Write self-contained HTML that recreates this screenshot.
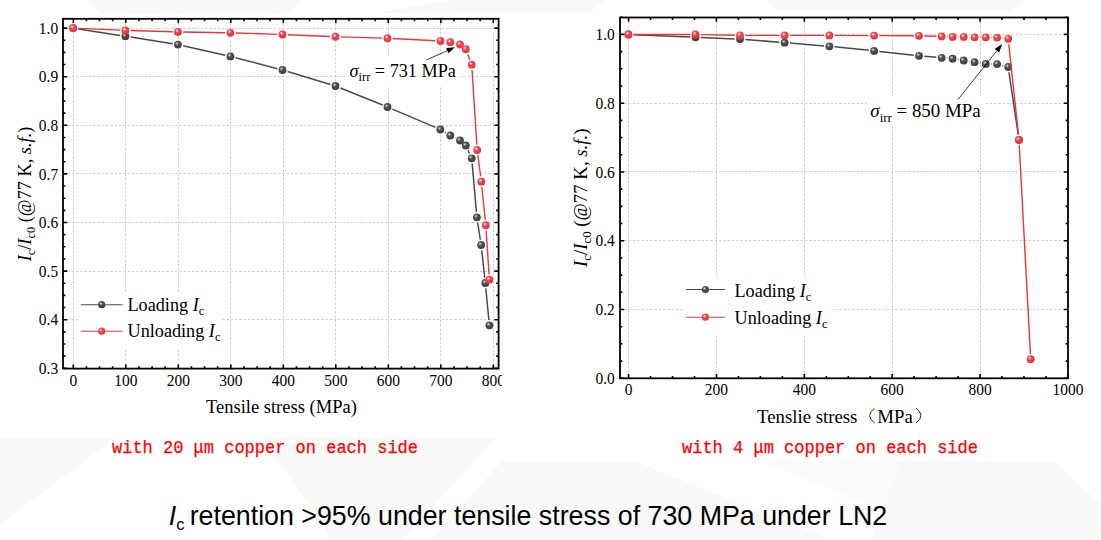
<!DOCTYPE html><html><head><meta charset="utf-8"><style>html,body{margin:0;padding:0;background:#fff;width:1101px;height:540px;overflow:hidden}svg{display:block}</style></head><body><svg width="1101" height="540" viewBox="0 0 1101 540">
<defs>
<radialGradient id="gr" cx="0.38" cy="0.35" r="0.7">
 <stop offset="0" stop-color="#fff"/><stop offset="0.16" stop-color="#fbaeb0"/><stop offset="0.36" stop-color="#f2434a"/><stop offset="1" stop-color="#e6323a"/>
</radialGradient>
<radialGradient id="gd" cx="0.38" cy="0.35" r="0.7">
 <stop offset="0" stop-color="#eee"/><stop offset="0.16" stop-color="#999"/><stop offset="0.36" stop-color="#505050"/><stop offset="1" stop-color="#3a3a3a"/>
</radialGradient>
</defs>
<rect width="1101" height="540" fill="#fff"/>
<polygon points="88,0 301,0 288,13 100,13" fill="#f9f9f9"/>
<polygon points="450,0 605,0 590,12.5 377,13" fill="#f9f9f9"/>
<polygon points="767,0 1024,0 1011,11 777,11" fill="#f9f9f9"/>
<polygon points="0,437.5 116,437.5 0,524" fill="#f9f9f9"/>
<polygon points="263,437.5 496,437.5 402,540 332,540" fill="#f9f9f9"/>
<polygon points="502,461 633,461 832,540 430,540" fill="#f9f9f9"/>
<polygon points="761,461 902,461 883,509.5" fill="#fbfbfb"/>
<polygon points="902,461 1054,461 1101,505 1101,540 871,540" fill="#f9f9f9"/>
<line x1="73.5" y1="18.8" x2="73.5" y2="368.6" stroke="#cfcfcf" stroke-width="1" stroke-dasharray="2.5,1.8"/>
<line x1="125.5" y1="18.8" x2="125.5" y2="368.6" stroke="#cfcfcf" stroke-width="1" stroke-dasharray="2.5,1.8"/>
<line x1="178.5" y1="18.8" x2="178.5" y2="368.6" stroke="#cfcfcf" stroke-width="1" stroke-dasharray="2.5,1.8"/>
<line x1="230.5" y1="18.8" x2="230.5" y2="368.6" stroke="#cfcfcf" stroke-width="1" stroke-dasharray="2.5,1.8"/>
<line x1="283.5" y1="18.8" x2="283.5" y2="368.6" stroke="#cfcfcf" stroke-width="1" stroke-dasharray="2.5,1.8"/>
<line x1="335.5" y1="18.8" x2="335.5" y2="368.6" stroke="#cfcfcf" stroke-width="1" stroke-dasharray="2.5,1.8"/>
<line x1="388.5" y1="18.8" x2="388.5" y2="368.6" stroke="#cfcfcf" stroke-width="1" stroke-dasharray="2.5,1.8"/>
<line x1="440.5" y1="18.8" x2="440.5" y2="368.6" stroke="#cfcfcf" stroke-width="1" stroke-dasharray="2.5,1.8"/>
<line x1="493.5" y1="18.8" x2="493.5" y2="368.6" stroke="#cfcfcf" stroke-width="1" stroke-dasharray="2.5,1.8"/>
<line x1="63.0" y1="319.5" x2="498.6" y2="319.5" stroke="#cfcfcf" stroke-width="1" stroke-dasharray="2.5,1.8"/>
<line x1="63.0" y1="271.5" x2="498.6" y2="271.5" stroke="#cfcfcf" stroke-width="1" stroke-dasharray="2.5,1.8"/>
<line x1="63.0" y1="222.5" x2="498.6" y2="222.5" stroke="#cfcfcf" stroke-width="1" stroke-dasharray="2.5,1.8"/>
<line x1="63.0" y1="173.5" x2="498.6" y2="173.5" stroke="#cfcfcf" stroke-width="1" stroke-dasharray="2.5,1.8"/>
<line x1="63.0" y1="125.5" x2="498.6" y2="125.5" stroke="#cfcfcf" stroke-width="1" stroke-dasharray="2.5,1.8"/>
<line x1="63.0" y1="76.5" x2="498.6" y2="76.5" stroke="#cfcfcf" stroke-width="1" stroke-dasharray="2.5,1.8"/>
<line x1="63.0" y1="28.5" x2="498.6" y2="28.5" stroke="#cfcfcf" stroke-width="1" stroke-dasharray="2.5,1.8"/>
<line x1="628.5" y1="17.5" x2="628.5" y2="378.3" stroke="#cfcfcf" stroke-width="1" stroke-dasharray="2.5,1.8"/>
<line x1="716.5" y1="17.5" x2="716.5" y2="378.3" stroke="#cfcfcf" stroke-width="1" stroke-dasharray="2.5,1.8"/>
<line x1="804.5" y1="17.5" x2="804.5" y2="378.3" stroke="#cfcfcf" stroke-width="1" stroke-dasharray="2.5,1.8"/>
<line x1="892.5" y1="17.5" x2="892.5" y2="378.3" stroke="#cfcfcf" stroke-width="1" stroke-dasharray="2.5,1.8"/>
<line x1="980.5" y1="17.5" x2="980.5" y2="378.3" stroke="#cfcfcf" stroke-width="1" stroke-dasharray="2.5,1.8"/>
<line x1="620.0" y1="309.5" x2="1068.0" y2="309.5" stroke="#cfcfcf" stroke-width="1" stroke-dasharray="2.5,1.8"/>
<line x1="620.0" y1="240.5" x2="1068.0" y2="240.5" stroke="#cfcfcf" stroke-width="1" stroke-dasharray="2.5,1.8"/>
<line x1="620.0" y1="171.5" x2="1068.0" y2="171.5" stroke="#cfcfcf" stroke-width="1" stroke-dasharray="2.5,1.8"/>
<line x1="620.0" y1="103.5" x2="1068.0" y2="103.5" stroke="#cfcfcf" stroke-width="1" stroke-dasharray="2.5,1.8"/>
<line x1="620.0" y1="34.5" x2="1068.0" y2="34.5" stroke="#cfcfcf" stroke-width="1" stroke-dasharray="2.5,1.8"/>
<path d="M78.34,28.91L120.16,35.39M130.63,37.04L172.67,43.76M183.07,45.76L225.23,55.24M235.53,57.74L277.37,68.66M287.57,71.53L330.43,84.47M340.41,87.98L382.59,105.02M392.38,109.08L435.42,127.42M444.84,132.23L445.76,132.77M455.01,137.93L455.29,138.07M468.02,150.31L469.48,153.49M472.17,163.58L476.43,212.02M477.69,222.54L480.31,239.76M481.68,250.27L484.72,277.73M485.81,288.28L488.89,320.02" fill="none" stroke="#4a4a4a" stroke-width="1.5"/>
<circle cx="73.1" cy="28.1" r="3.9" fill="url(#gd)"/>
<circle cx="125.4" cy="36.2" r="3.9" fill="url(#gd)"/>
<circle cx="177.9" cy="44.6" r="3.9" fill="url(#gd)"/>
<circle cx="230.4" cy="56.4" r="3.9" fill="url(#gd)"/>
<circle cx="282.5" cy="70" r="3.9" fill="url(#gd)"/>
<circle cx="335.5" cy="86" r="3.9" fill="url(#gd)"/>
<circle cx="387.5" cy="107" r="3.9" fill="url(#gd)"/>
<circle cx="440.3" cy="129.5" r="3.9" fill="url(#gd)"/>
<circle cx="450.3" cy="135.5" r="3.9" fill="url(#gd)"/>
<circle cx="460" cy="140.5" r="3.9" fill="url(#gd)"/>
<circle cx="465.8" cy="145.5" r="3.9" fill="url(#gd)"/>
<circle cx="471.7" cy="158.3" r="3.9" fill="url(#gd)"/>
<circle cx="476.9" cy="217.3" r="3.9" fill="url(#gd)"/>
<circle cx="481.1" cy="245" r="3.9" fill="url(#gd)"/>
<circle cx="485.3" cy="283" r="3.9" fill="url(#gd)"/>
<circle cx="489.4" cy="325.3" r="3.9" fill="url(#gd)"/>
<path d="M78.39,28.33L120.11,30.17M130.7,30.55L172.6,31.75M183.2,31.99L225.1,32.71M235.7,32.97L277.2,34.33M287.8,34.72L330.2,36.53M340.8,36.9L382.2,38.1M392.79,38.52L435.21,40.73M467.69,54.15L469.81,59.75M472.04,69.99L476.86,144.71M477.88,155.26L480.62,176.44M481.85,186.97L485.25,219.93M486.15,230.49L489.05,274.41" fill="none" stroke="#ec343c" stroke-width="1.4"/>
<circle cx="73.1" cy="28.1" r="3.9" fill="url(#gr)"/>
<circle cx="125.4" cy="30.4" r="3.9" fill="url(#gr)"/>
<circle cx="177.9" cy="31.9" r="3.9" fill="url(#gr)"/>
<circle cx="230.4" cy="32.8" r="3.9" fill="url(#gr)"/>
<circle cx="282.5" cy="34.5" r="3.9" fill="url(#gr)"/>
<circle cx="335.5" cy="36.75" r="3.9" fill="url(#gr)"/>
<circle cx="387.5" cy="38.25" r="3.9" fill="url(#gr)"/>
<circle cx="440.5" cy="41" r="3.9" fill="url(#gr)"/>
<circle cx="450.3" cy="42.2" r="3.9" fill="url(#gr)"/>
<circle cx="460" cy="44.5" r="3.9" fill="url(#gr)"/>
<circle cx="465.8" cy="49.2" r="3.9" fill="url(#gr)"/>
<circle cx="471.7" cy="64.7" r="3.9" fill="url(#gr)"/>
<circle cx="477.2" cy="150" r="3.9" fill="url(#gr)"/>
<circle cx="481.3" cy="181.7" r="3.9" fill="url(#gr)"/>
<circle cx="485.8" cy="225.2" r="3.9" fill="url(#gr)"/>
<circle cx="489.4" cy="279.7" r="3.9" fill="url(#gr)"/>
<path d="M633.7,34.72L690.2,37.08M700.8,37.51L734.7,38.89M745.28,39.53L779.32,42.27M789.88,43.12L824.12,45.88M834.67,46.84L868.83,50.36M879.37,51.47L913.73,55.23M924.28,56.27L936.32,57.33M946.88,58.23L947.32,58.27M957.83,59.55L958.47,59.65M968.94,61.32L969.36,61.38M979.84,63L980.56,63.1M991.1,63.99L991.8,64.01M1002.23,65.44L1003.07,65.66M1008.98,72.24L1018.22,134.56" fill="none" stroke="#4a4a4a" stroke-width="1.5"/>
<circle cx="628.4" cy="34.5" r="3.9" fill="url(#gd)"/>
<circle cx="695.5" cy="37.3" r="3.9" fill="url(#gd)"/>
<circle cx="740" cy="39.1" r="3.9" fill="url(#gd)"/>
<circle cx="784.6" cy="42.7" r="3.9" fill="url(#gd)"/>
<circle cx="829.4" cy="46.3" r="3.9" fill="url(#gd)"/>
<circle cx="874.1" cy="50.9" r="3.9" fill="url(#gd)"/>
<circle cx="919" cy="55.8" r="3.9" fill="url(#gd)"/>
<circle cx="941.6" cy="57.8" r="3.9" fill="url(#gd)"/>
<circle cx="952.6" cy="58.7" r="3.9" fill="url(#gd)"/>
<circle cx="963.7" cy="60.5" r="3.9" fill="url(#gd)"/>
<circle cx="974.6" cy="62.2" r="3.9" fill="url(#gd)"/>
<circle cx="985.8" cy="63.9" r="3.9" fill="url(#gd)"/>
<circle cx="997.1" cy="64.1" r="3.9" fill="url(#gd)"/>
<circle cx="1008.2" cy="67" r="3.9" fill="url(#gd)"/>
<circle cx="1019" cy="139.8" r="3.9" fill="url(#gd)"/>
<path d="M633.7,34.5L690.2,34.5M700.8,34.61L734.7,35.29M745.3,35.4L779.3,35.4M789.9,35.4L824.1,35.4M834.7,35.42L868.8,35.58M879.4,35.62L913.7,35.78M924.3,35.94L936.3,36.26M946.89,36.64L947.31,36.66M957.9,36.9L958.4,36.9M969,37.09L969.3,37.11M979.9,37.3L980.5,37.3M991.1,37.44L991.8,37.46M1002.37,38.17L1002.93,38.23M1008.76,44.07L1018.44,134.53M1019.28,145.09L1030.42,353.91" fill="none" stroke="#ec343c" stroke-width="1.4"/>
<circle cx="628.4" cy="34.5" r="3.9" fill="url(#gr)"/>
<circle cx="695.5" cy="34.5" r="3.9" fill="url(#gr)"/>
<circle cx="740" cy="35.4" r="3.9" fill="url(#gr)"/>
<circle cx="784.6" cy="35.4" r="3.9" fill="url(#gr)"/>
<circle cx="829.4" cy="35.4" r="3.9" fill="url(#gr)"/>
<circle cx="874.1" cy="35.6" r="3.9" fill="url(#gr)"/>
<circle cx="919" cy="35.8" r="3.9" fill="url(#gr)"/>
<circle cx="941.6" cy="36.4" r="3.9" fill="url(#gr)"/>
<circle cx="952.6" cy="36.9" r="3.9" fill="url(#gr)"/>
<circle cx="963.7" cy="36.9" r="3.9" fill="url(#gr)"/>
<circle cx="974.6" cy="37.3" r="3.9" fill="url(#gr)"/>
<circle cx="985.8" cy="37.3" r="3.9" fill="url(#gr)"/>
<circle cx="997.1" cy="37.6" r="3.9" fill="url(#gr)"/>
<circle cx="1008.2" cy="38.8" r="3.9" fill="url(#gr)"/>
<circle cx="1019" cy="139.8" r="3.9" fill="url(#gr)"/>
<circle cx="1030.7" cy="359.2" r="3.9" fill="url(#gr)"/>
<rect x="63.0" y="18.8" width="435.6" height="349.8" fill="none" stroke="#000" stroke-width="1.8"/>
<path d="M73.3,368.6v-4.2M73.3,18.8v4.2M86.42,368.6v-2.4M86.42,18.8v2.4M99.55,368.6v-2.4M99.55,18.8v2.4M112.67,368.6v-2.4M112.67,18.8v2.4M125.8,368.6v-4.2M125.8,18.8v4.2M138.93,368.6v-2.4M138.93,18.8v2.4M152.05,368.6v-2.4M152.05,18.8v2.4M165.18,368.6v-2.4M165.18,18.8v2.4M178.3,368.6v-4.2M178.3,18.8v4.2M191.43,368.6v-2.4M191.43,18.8v2.4M204.55,368.6v-2.4M204.55,18.8v2.4M217.68,368.6v-2.4M217.68,18.8v2.4M230.8,368.6v-4.2M230.8,18.8v4.2M243.93,368.6v-2.4M243.93,18.8v2.4M257.05,368.6v-2.4M257.05,18.8v2.4M270.18,368.6v-2.4M270.18,18.8v2.4M283.3,368.6v-4.2M283.3,18.8v4.2M296.43,368.6v-2.4M296.43,18.8v2.4M309.55,368.6v-2.4M309.55,18.8v2.4M322.68,368.6v-2.4M322.68,18.8v2.4M335.8,368.6v-4.2M335.8,18.8v4.2M348.93,368.6v-2.4M348.93,18.8v2.4M362.05,368.6v-2.4M362.05,18.8v2.4M375.18,368.6v-2.4M375.18,18.8v2.4M388.3,368.6v-4.2M388.3,18.8v4.2M401.43,368.6v-2.4M401.43,18.8v2.4M414.55,368.6v-2.4M414.55,18.8v2.4M427.68,368.6v-2.4M427.68,18.8v2.4M440.8,368.6v-4.2M440.8,18.8v4.2M453.93,368.6v-2.4M453.93,18.8v2.4M467.05,368.6v-2.4M467.05,18.8v2.4M480.18,368.6v-2.4M480.18,18.8v2.4M493.3,368.6v-4.2M493.3,18.8v4.2M63.0,368.3h4.2M498.6,368.3h-4.2M63.0,356.15h2.4M498.6,356.15h-2.4M63.0,344h2.4M498.6,344h-2.4M63.0,331.85h2.4M498.6,331.85h-2.4M63.0,319.7h4.2M498.6,319.7h-4.2M63.0,307.55h2.4M498.6,307.55h-2.4M63.0,295.4h2.4M498.6,295.4h-2.4M63.0,283.25h2.4M498.6,283.25h-2.4M63.0,271.1h4.2M498.6,271.1h-4.2M63.0,258.95h2.4M498.6,258.95h-2.4M63.0,246.8h2.4M498.6,246.8h-2.4M63.0,234.65h2.4M498.6,234.65h-2.4M63.0,222.5h4.2M498.6,222.5h-4.2M63.0,210.35h2.4M498.6,210.35h-2.4M63.0,198.2h2.4M498.6,198.2h-2.4M63.0,186.05h2.4M498.6,186.05h-2.4M63.0,173.9h4.2M498.6,173.9h-4.2M63.0,161.75h2.4M498.6,161.75h-2.4M63.0,149.6h2.4M498.6,149.6h-2.4M63.0,137.45h2.4M498.6,137.45h-2.4M63.0,125.3h4.2M498.6,125.3h-4.2M63.0,113.15h2.4M498.6,113.15h-2.4M63.0,101h2.4M498.6,101h-2.4M63.0,88.85h2.4M498.6,88.85h-2.4M63.0,76.7h4.2M498.6,76.7h-4.2M63.0,64.55h2.4M498.6,64.55h-2.4M63.0,52.4h2.4M498.6,52.4h-2.4M63.0,40.25h2.4M498.6,40.25h-2.4M63.0,28.1h4.2M498.6,28.1h-4.2" stroke="#000" stroke-width="1.6" fill="none"/>
<rect x="620.0" y="17.5" width="448" height="360.8" fill="none" stroke="#000" stroke-width="1.8"/>
<path d="M628.6,378.3v-4.2M628.6,17.5v4.2M650.57,378.3v-2.4M650.57,17.5v2.4M672.53,378.3v-2.4M672.53,17.5v2.4M694.5,378.3v-2.4M694.5,17.5v2.4M716.46,378.3v-4.2M716.46,17.5v4.2M738.43,378.3v-2.4M738.43,17.5v2.4M760.39,378.3v-2.4M760.39,17.5v2.4M782.36,378.3v-2.4M782.36,17.5v2.4M804.32,378.3v-4.2M804.32,17.5v4.2M826.29,378.3v-2.4M826.29,17.5v2.4M848.25,378.3v-2.4M848.25,17.5v2.4M870.22,378.3v-2.4M870.22,17.5v2.4M892.18,378.3v-4.2M892.18,17.5v4.2M914.14,378.3v-2.4M914.14,17.5v2.4M936.11,378.3v-2.4M936.11,17.5v2.4M958.08,378.3v-2.4M958.08,17.5v2.4M980.04,378.3v-4.2M980.04,17.5v4.2M1002.01,378.3v-2.4M1002.01,17.5v2.4M1023.97,378.3v-2.4M1023.97,17.5v2.4M1045.93,378.3v-2.4M1045.93,17.5v2.4M1067.9,378.3v-4.2M1067.9,17.5v4.2M620.0,378.3h4.2M1068.0,378.3h-4.2M620.0,361.1h2.4M1068.0,361.1h-2.4M620.0,343.91h2.4M1068.0,343.91h-2.4M620.0,326.71h2.4M1068.0,326.71h-2.4M620.0,309.52h4.2M1068.0,309.52h-4.2M620.0,292.32h2.4M1068.0,292.32h-2.4M620.0,275.13h2.4M1068.0,275.13h-2.4M620.0,257.93h2.4M1068.0,257.93h-2.4M620.0,240.74h4.2M1068.0,240.74h-4.2M620.0,223.55h2.4M1068.0,223.55h-2.4M620.0,206.35h2.4M1068.0,206.35h-2.4M620.0,189.15h2.4M1068.0,189.15h-2.4M620.0,171.96h4.2M1068.0,171.96h-4.2M620.0,154.76h2.4M1068.0,154.76h-2.4M620.0,137.57h2.4M1068.0,137.57h-2.4M620.0,120.38h2.4M1068.0,120.38h-2.4M620.0,103.18h4.2M1068.0,103.18h-4.2M620.0,85.98h2.4M1068.0,85.98h-2.4M620.0,68.79h2.4M1068.0,68.79h-2.4M620.0,51.59h2.4M1068.0,51.59h-2.4M620.0,34.4h4.2M1068.0,34.4h-4.2M620.0,17.2h2.4M1068.0,17.2h-2.4" stroke="#000" stroke-width="1.6" fill="none"/>
<clipPath id="clipL"><rect x="0" y="0" width="502" height="540"/></clipPath>
<g clip-path="url(#clipL)">
<g transform="translate(73.3,385.6) scale(0.95,1)"><text x="0" y="0" font-family="Liberation Serif" font-size="16.3" text-anchor="middle">0</text></g>
<g transform="translate(125.8,385.6) scale(0.95,1)"><text x="0" y="0" font-family="Liberation Serif" font-size="16.3" text-anchor="middle">100</text></g>
<g transform="translate(178.3,385.6) scale(0.95,1)"><text x="0" y="0" font-family="Liberation Serif" font-size="16.3" text-anchor="middle">200</text></g>
<g transform="translate(230.8,385.6) scale(0.95,1)"><text x="0" y="0" font-family="Liberation Serif" font-size="16.3" text-anchor="middle">300</text></g>
<g transform="translate(283.3,385.6) scale(0.95,1)"><text x="0" y="0" font-family="Liberation Serif" font-size="16.3" text-anchor="middle">400</text></g>
<g transform="translate(335.8,385.6) scale(0.95,1)"><text x="0" y="0" font-family="Liberation Serif" font-size="16.3" text-anchor="middle">500</text></g>
<g transform="translate(388.3,385.6) scale(0.95,1)"><text x="0" y="0" font-family="Liberation Serif" font-size="16.3" text-anchor="middle">600</text></g>
<g transform="translate(440.8,385.6) scale(0.95,1)"><text x="0" y="0" font-family="Liberation Serif" font-size="16.3" text-anchor="middle">700</text></g>
<g transform="translate(493.3,385.6) scale(0.95,1)"><text x="0" y="0" font-family="Liberation Serif" font-size="16.3" text-anchor="middle">800</text></g>
</g>
<g transform="translate(58.2,373.9) scale(0.95,1)"><text x="0" y="0" font-family="Liberation Serif" font-size="16.3" text-anchor="end">0.3</text></g>
<g transform="translate(58.2,325.3) scale(0.95,1)"><text x="0" y="0" font-family="Liberation Serif" font-size="16.3" text-anchor="end">0.4</text></g>
<g transform="translate(58.2,276.7) scale(0.95,1)"><text x="0" y="0" font-family="Liberation Serif" font-size="16.3" text-anchor="end">0.5</text></g>
<g transform="translate(58.2,228.1) scale(0.95,1)"><text x="0" y="0" font-family="Liberation Serif" font-size="16.3" text-anchor="end">0.6</text></g>
<g transform="translate(58.2,179.5) scale(0.95,1)"><text x="0" y="0" font-family="Liberation Serif" font-size="16.3" text-anchor="end">0.7</text></g>
<g transform="translate(58.2,130.9) scale(0.95,1)"><text x="0" y="0" font-family="Liberation Serif" font-size="16.3" text-anchor="end">0.8</text></g>
<g transform="translate(58.2,82.3) scale(0.95,1)"><text x="0" y="0" font-family="Liberation Serif" font-size="16.3" text-anchor="end">0.9</text></g>
<g transform="translate(58.2,33.7) scale(0.95,1)"><text x="0" y="0" font-family="Liberation Serif" font-size="16.3" text-anchor="end">1.0</text></g>
<g transform="translate(628.6,395.2) scale(0.95,1)"><text x="0" y="0" font-family="Liberation Serif" font-size="16.3" text-anchor="middle">0</text></g>
<g transform="translate(716.46,395.2) scale(0.95,1)"><text x="0" y="0" font-family="Liberation Serif" font-size="16.3" text-anchor="middle">200</text></g>
<g transform="translate(804.32,395.2) scale(0.95,1)"><text x="0" y="0" font-family="Liberation Serif" font-size="16.3" text-anchor="middle">400</text></g>
<g transform="translate(892.18,395.2) scale(0.95,1)"><text x="0" y="0" font-family="Liberation Serif" font-size="16.3" text-anchor="middle">600</text></g>
<g transform="translate(980.04,395.2) scale(0.95,1)"><text x="0" y="0" font-family="Liberation Serif" font-size="16.3" text-anchor="middle">800</text></g>
<g transform="translate(1067.9,395.2) scale(0.95,1)"><text x="0" y="0" font-family="Liberation Serif" font-size="16.3" text-anchor="middle">1000</text></g>
<g transform="translate(614.8,383.9) scale(0.95,1)"><text x="0" y="0" font-family="Liberation Serif" font-size="16.3" text-anchor="end">0.0</text></g>
<g transform="translate(614.8,315.12) scale(0.95,1)"><text x="0" y="0" font-family="Liberation Serif" font-size="16.3" text-anchor="end">0.2</text></g>
<g transform="translate(614.8,246.34) scale(0.95,1)"><text x="0" y="0" font-family="Liberation Serif" font-size="16.3" text-anchor="end">0.4</text></g>
<g transform="translate(614.8,177.56) scale(0.95,1)"><text x="0" y="0" font-family="Liberation Serif" font-size="16.3" text-anchor="end">0.6</text></g>
<g transform="translate(614.8,108.78) scale(0.95,1)"><text x="0" y="0" font-family="Liberation Serif" font-size="16.3" text-anchor="end">0.8</text></g>
<g transform="translate(614.8,40) scale(0.95,1)"><text x="0" y="0" font-family="Liberation Serif" font-size="16.3" text-anchor="end">1.0</text></g>
<text x="206" y="412.8" font-family="Liberation Serif" font-size="18.5">Tensile stress (MPa)</text>
<text x="757" y="423.3" font-family="Liberation Serif" font-size="18.8">Tenslie stress</text>
<path d="M874.6,408.2Q864.6,415.6 874.6,423" fill="none" stroke="#222" stroke-width="1"/>
<text x="877.3" y="423.3" font-family="Liberation Serif" font-size="18.8">MPa</text>
<path d="M916,408.2Q926,415.6 916,423" fill="none" stroke="#222" stroke-width="1"/>
<text transform="translate(30.5,194) rotate(-90)" font-family="Liberation Serif" font-size="18.3" text-anchor="middle"><tspan font-style="italic">I</tspan><tspan font-size="12.4" dy="4">c</tspan><tspan dy="-4">/</tspan><tspan font-style="italic">I</tspan><tspan font-size="12.4" dy="4">c0</tspan><tspan dy="-4"> (@77 K, </tspan><tspan font-style="italic">s.f.</tspan>)</text>
<text transform="translate(586.8,197.7) rotate(-90)" font-family="Liberation Serif" font-size="18.8" text-anchor="middle"><tspan font-style="italic">I</tspan><tspan font-size="12.8" dy="4">c</tspan><tspan dy="-4">/</tspan><tspan font-style="italic">I</tspan><tspan font-size="12.8" dy="4">c0</tspan><tspan dy="-4"> (@77 K, </tspan><tspan font-style="italic">s.f.</tspan>)</text>
<rect x="347" y="57.8" width="113" height="27.8" fill="#fff"/>
<rect x="866.7" y="96" width="117" height="30.5" fill="#fff"/>
<text x="349.6" y="76.8" font-family="Liberation Serif" font-size="18.2"><tspan font-style="italic">σ</tspan><tspan font-size="12.4" dy="4.5">irr</tspan><tspan dy="-4.5"> = 731 MPa</tspan></text>
<text x="870.3" y="117.4" font-family="Liberation Serif" font-size="18.9"><tspan font-style="italic">σ</tspan><tspan font-size="12.9" dy="4.5">irr</tspan><tspan dy="-4.5"> = 850 MPa</tspan></text>
<line x1="426.3" y1="60" x2="447.24" y2="50.66" stroke="#000" stroke-width="0.75"/><polygon points="455,47.2 448.42,53.31 446.06,48.01" fill="#000"/>
<line x1="958" y1="99.5" x2="996.9" y2="50.74" stroke="#000" stroke-width="0.75"/><polygon points="1002.2,44.1 999.17,52.55 994.63,48.94" fill="#000"/>
<rect x="77.5" y="291.7" width="144.2" height="57.5" fill="#fff"/><line x1="80.8" y1="304.7" x2="122.5" y2="304.7" stroke="#4a4a4a" stroke-width="1.15"/><circle cx="101.7" cy="304.7" r="3.6" fill="url(#gd)"/><line x1="80.8" y1="331.2" x2="122.5" y2="331.2" stroke="#ec343c" stroke-width="1.15"/><circle cx="101.7" cy="331.2" r="3.6" fill="url(#gr)"/><text x="127.5" y="310.9" font-family="Liberation Serif" font-size="18.2">Loading <tspan font-style="italic">I</tspan><tspan font-size="12.4" dy="4">c</tspan></text><text x="127.5" y="337.4" font-family="Liberation Serif" font-size="18.2">Unloading <tspan font-style="italic">I</tspan><tspan font-size="12.4" dy="4">c</tspan></text>
<rect x="683.6" y="276.8" width="148.1" height="59" fill="#fff"/><line x1="686.1" y1="289.5" x2="724.8" y2="289.5" stroke="#4a4a4a" stroke-width="1.15"/><circle cx="705.4" cy="289.5" r="3.6" fill="url(#gd)"/><line x1="686.1" y1="317.2" x2="724.8" y2="317.2" stroke="#ec343c" stroke-width="1.15"/><circle cx="705.4" cy="317.2" r="3.6" fill="url(#gr)"/><text x="734.5" y="296.5" font-family="Liberation Serif" font-size="18.2">Loading <tspan font-style="italic">I</tspan><tspan font-size="12.4" dy="4">c</tspan></text><text x="734.5" y="323.7" font-family="Liberation Serif" font-size="18.2">Unloading <tspan font-style="italic">I</tspan><tspan font-size="12.4" dy="4">c</tspan></text>
<text x="112" y="453.2" font-family="Liberation Mono" font-size="18.6" fill="#f00" stroke="#f00" stroke-width="0.25" textLength="306" lengthAdjust="spacingAndGlyphs">with 20 μm copper on each side</text>
<text x="682" y="453.2" font-family="Liberation Mono" font-size="18.6" fill="#f00" stroke="#f00" stroke-width="0.25" textLength="296" lengthAdjust="spacingAndGlyphs">with 4 μm copper on each side</text>
<g transform="translate(0,524.6) scale(1,1.04)"><text x="168.8" y="0" font-family="Liberation Sans" font-size="26.8"><tspan font-style="italic">I</tspan><tspan font-size="16.5" dy="5.5" dx="0">c</tspan><tspan dy="-5.5" dx="-2.3"> retention &gt;95% under tensile stress of 730 MPa under LN2</tspan></text></g>
</svg></body></html>
